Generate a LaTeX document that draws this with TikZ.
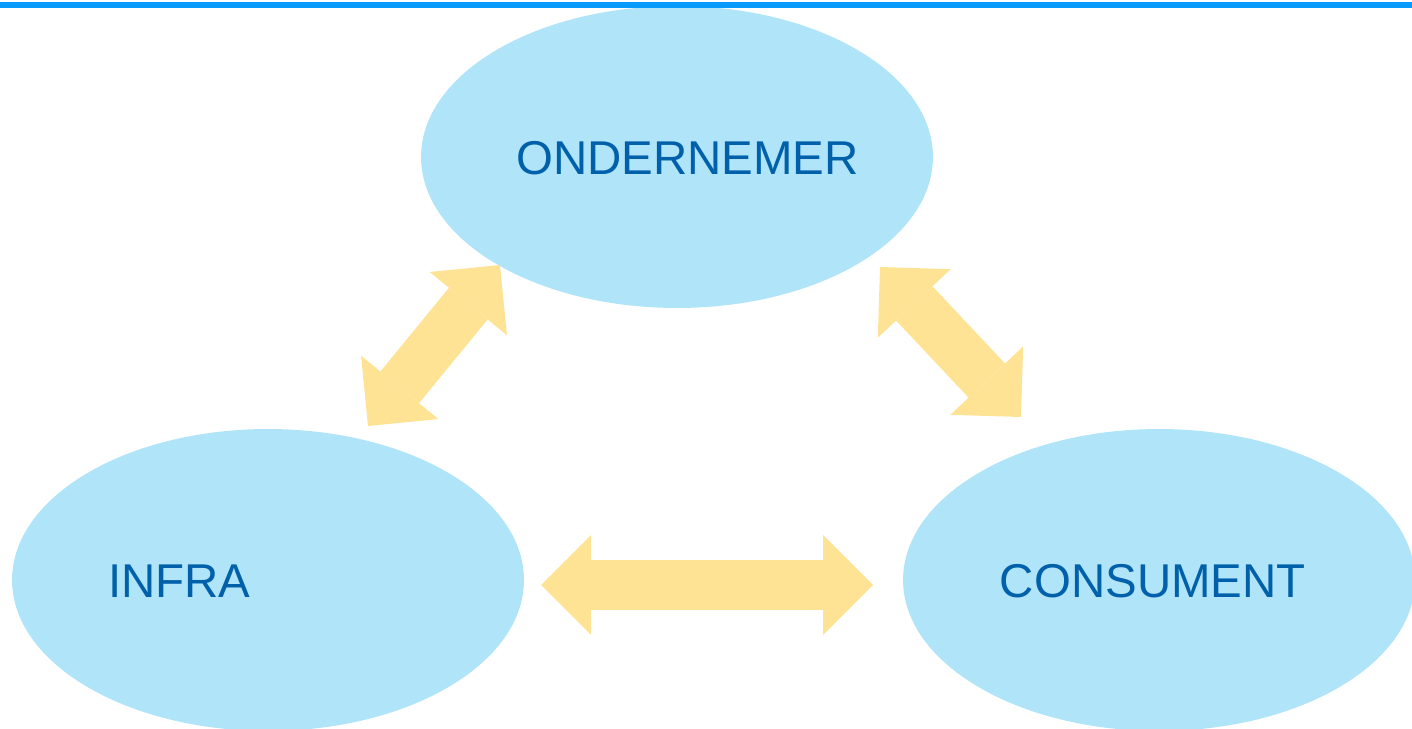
\documentclass[tikz,border=0pt]{standalone}
\usepackage{fontspec}
\setmainfont{Liberation Sans}
\definecolor{bubblefill}{RGB}{176, 228, 248}
\definecolor{bubbletext}{RGB}{0, 96, 170}
\definecolor{arrowfill}{RGB}{255, 227, 149}
\definecolor{topline}{RGB}{10, 155, 255}
\usetikzlibrary{shapes.geometric, arrows.meta}
\tikzset{
    bubble/.style={ellipse, fill=bubblefill, minimum width=10.24cm,
        minimum height=6.04cm, inner sep=0pt},
    bubblelabel/.style={anchor=base, text=bubbletext,
        font=\fontsize{27}{32}\selectfont},
    fattip/.tip={Triangle[width=2cm, length=1cm, line width=0pt]},
    fatarrow/.style={draw=arrowfill, line width=1cm, fattip-fattip},
}

\begin{document}
\begin{tikzpicture}[x=0.02cm, y=-0.02cm]
        \useasboundingbox (0, 0) rectangle (1412, 729);
        \clip (0, 0) rectangle (1412, 729);
        \node[bubble] (ond) at (677, 157) {};
        \node[bubble] (inf) at (268, 580) {};
        \node[bubble] (con) at (1159, 580) {};
        \node[bubblelabel] (ondtext) at (687.5, 174.3) {ONDERNEMER};
        \node[bubblelabel] (inftext) at (179.3, 597.3) {INFRA};
        \node[bubblelabel] (context) at (1152.8, 597.2) {CONSUMENT};
        % arrow ends
        \coordinate (infup) at (368, 426);
        \coordinate (ondleft) at (500, 265);
        \coordinate (ondright) at (880, 267);
        \coordinate (conup) at (1021, 417);
        \coordinate (infright) at (541, 585);
        \coordinate (conleft) at (873, 585);
        \draw[fatarrow] (infup) -- (ondleft);
        \draw[fatarrow] (ondright) -- (conup);
        \draw[fatarrow] (infright) -- (conleft);
        \fill[topline] (0, 2) rectangle (1412, 8);
    \end{tikzpicture}
\end{document}
